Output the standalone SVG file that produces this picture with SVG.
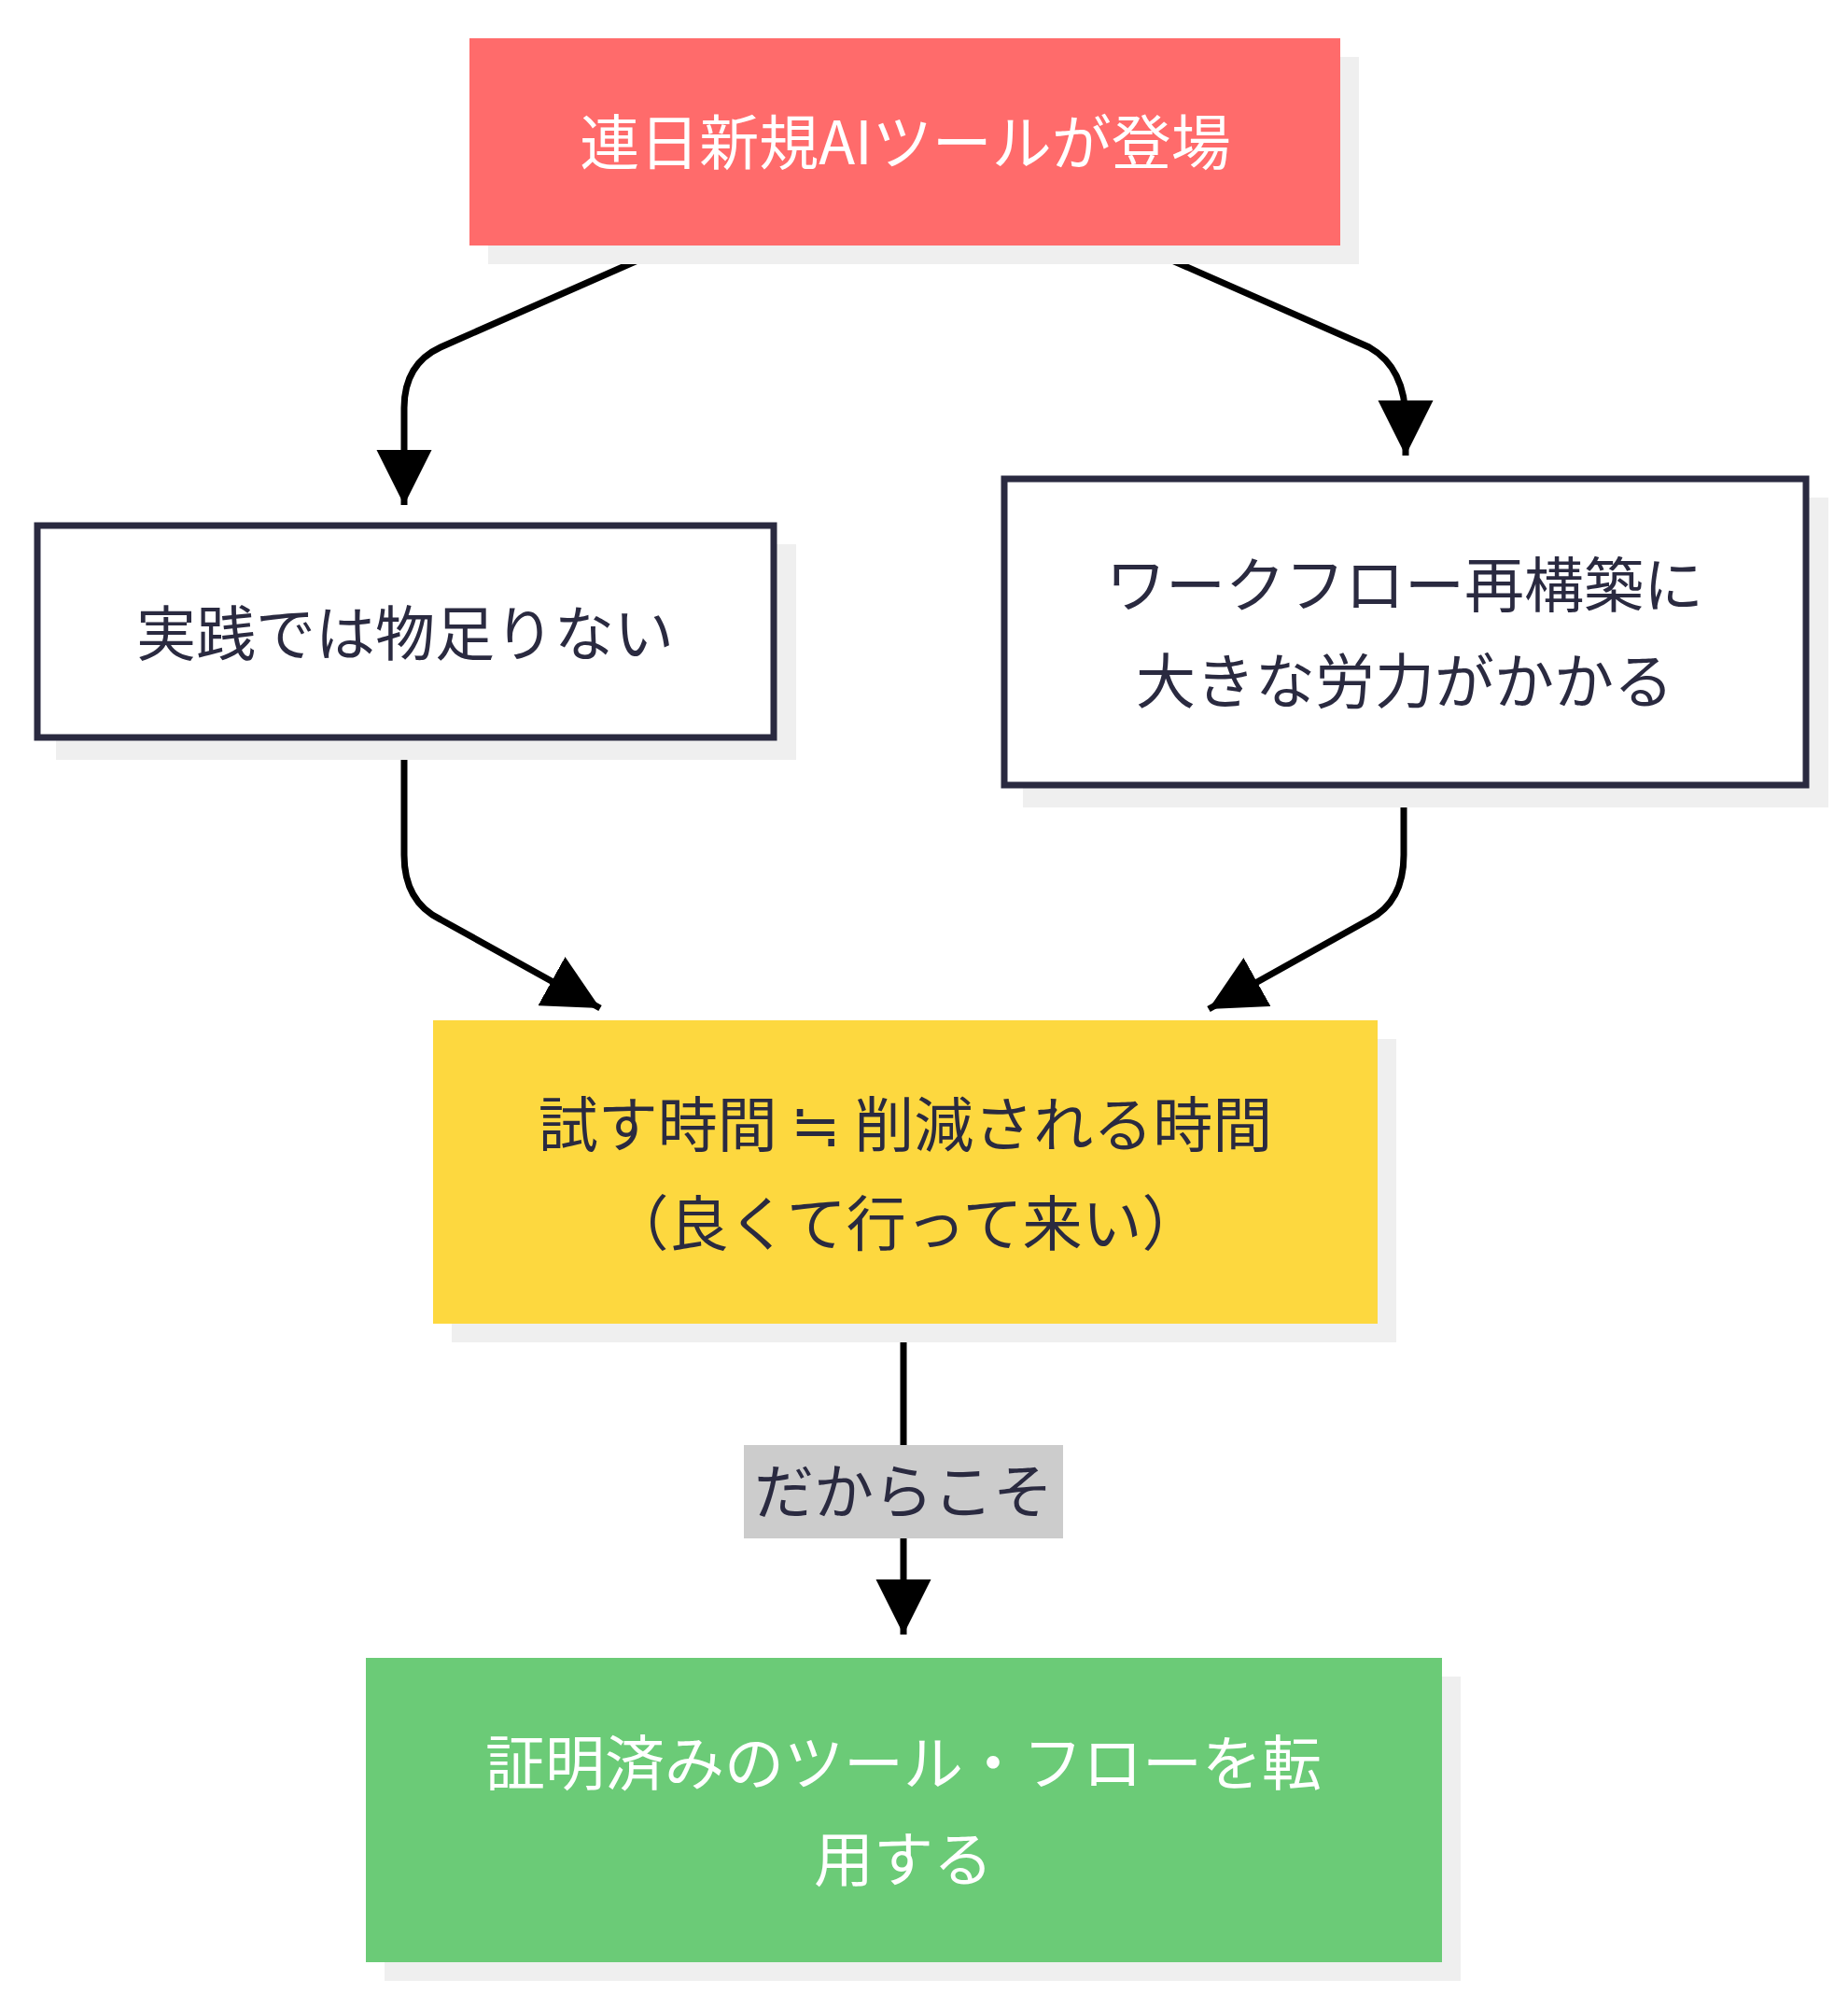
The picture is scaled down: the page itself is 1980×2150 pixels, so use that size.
<svg xmlns="http://www.w3.org/2000/svg" width="1980" height="2150" viewBox="0 0 1980 2150">
<style>
text{font-family:"Noto Sans CJK JP","Noto Sans",sans-serif;font-size:64px;fill:#2a2a40;text-anchor:middle;dominant-baseline:central}
.w{fill:#fff}
.sh{fill:#efefef}
.e{fill:none;stroke:#000;stroke-width:7}
</style>
<defs><marker id="a" viewBox="0 0 10 10" refX="10" refY="5" markerWidth="8.5" markerHeight="8.5" markerUnits="strokeWidth" orient="auto"><path d="M0,0L10,5L0,10z" fill="#000"/></marker></defs>
<rect width="1980" height="2150" fill="#fff"/>
<g id="edges">
<path class="e" d="M715,265L472,372Q433,390 433,437L433,541" marker-end="url(#a)"/>
<path class="e" d="M1224,265L1467,372Q1506,394 1506,451L1506,488" marker-end="url(#a)"/>
<path class="e" d="M433,793L433,916Q433,966 472,985L643,1080" marker-end="url(#a)"/>
<path class="e" d="M1504,845L1504,916Q1504,966 1467,985L1295,1081" marker-end="url(#a)"/>
<path class="e" d="M968,1420L968,1751" marker-end="url(#a)"/>
<rect x="797" y="1548" width="342" height="100" fill="#cccccc"/>
<text x="968" y="1593">だからこそ</text>
</g>
<g id="n1"><rect class="sh" x="523" y="61" width="933" height="222"/><rect x="503" y="41" width="933" height="222" fill="#ff6b6b"/><text class="w" x="970" y="148">連日新規AIツールが登場</text></g>
<g id="n2"><rect class="sh" x="60" y="583" width="793" height="231"/><rect x="40" y="563" width="789" height="227" fill="#fff" stroke="#2a2a40" stroke-width="7"/><text x="434" y="674">実践では物足りない</text></g>
<g id="n3"><rect class="sh" x="1096" y="533" width="863" height="332"/><rect x="1076" y="513" width="859" height="328" fill="#fff" stroke="#2a2a40" stroke-width="7"/><text x="1505" y="622">ワークフロー再構築に</text><text x="1505" y="725">大きな労力がかかる</text></g>
<g id="n4"><rect class="sh" x="484" y="1113" width="1012" height="325"/><rect x="464" y="1093" width="1012" height="325" fill="#fdd83f"/><text x="970" y="1200">試す時間 ≒ 削減される時間</text><text x="970" y="1306">（良くて行って来い）</text></g>
<g id="n5"><rect class="sh" x="412" y="1796" width="1153" height="326"/><rect x="392" y="1776" width="1153" height="326" fill="#6bcb77"/><text class="w" x="968" y="1884">証明済みのツール・フローを転</text><text class="w" x="968" y="1987">用する</text></g>
</svg>
